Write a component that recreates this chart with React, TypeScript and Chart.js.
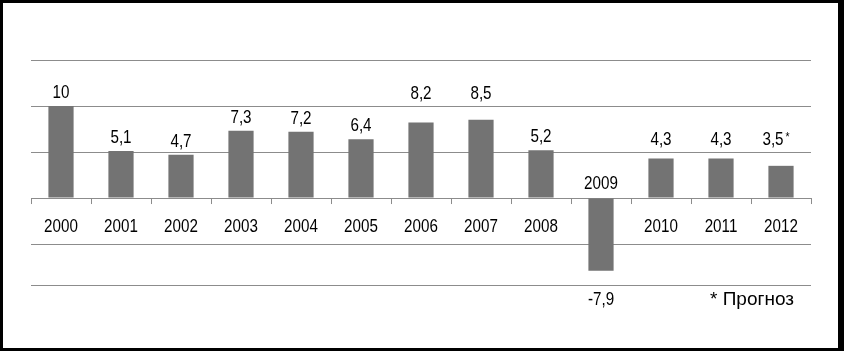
import React, { useEffect, useRef } from "react";
import { Chart, registerables } from "chart.js";

Chart.register(...registerables);

const years = ["2000", "2001", "2002", "2003", "2004", "2005", "2006", "2007", "2008", "2009", "2010", "2011", "2012"];
const growth = [10, 5.1, 4.7, 7.3, 7.2, 6.4, 8.2, 8.5, 5.2, -7.9, 4.3, 4.3, 3.5];
const forecastFlags = [false, false, false, false, false, false, false, false, false, false, false, false, true];
const gridTicks = [-9.45, -5, 0, 5, 10, 15];
const footnote = "* Прогноз";

const FONT = '"Liberation Sans", Arial, sans-serif';
const GRID = "#8c8c8c";
const BAR = "#737373";
const SX = 0.8;

const fmt = (v: number) => (Number.isInteger(v) ? String(v) : v.toFixed(1).replace(".", ","));

function narrowText(ctx: any, text: string, x: number, y: number, align: "center" | "left", size = 19, sx = SX) {
  ctx.save();
  ctx.font = size + "px " + FONT;
  ctx.textAlign = align;
  ctx.textBaseline = "middle";
  ctx.translate(x, y);
  ctx.scale(sx, 1);
  ctx.fillText(text, 0, 0);
  const w = ctx.measureText(text).width * sx;
  ctx.restore();
  return w;
}

const labelPlugin = {
  id: "customLabels",
  afterDatasetsDraw(chart: any) {
    const ctx = chart.ctx;
    const xs = chart.scales.x;
    const ys = chart.scales.y;
    const zero = ys.getPixelForValue(0);
    const half = (xs.getPixelForValue(1) - xs.getPixelForValue(0)) / 2;
    const gridPx = gridTicks.map((v) => ys.getPixelForValue(v));
    ctx.save();
    ctx.strokeStyle = GRID;
    ctx.lineWidth = 1;
    for (let i = 0; i <= years.length; i++) {
      const x = Math.round(xs.getPixelForValue(0) - half + i * 2 * half) + 0.5;
      ctx.beginPath();
      ctx.moveTo(x, zero);
      ctx.lineTo(x, zero + 6);
      ctx.stroke();
    }
    ctx.fillStyle = "#000";
    years.forEach((yr, i) => {
      const v = growth[i];
      const cx = xs.getPixelForValue(i);
      const end = ys.getPixelForValue(v);
      if (v >= 0) {
        narrowText(ctx, yr, cx, zero + 29, "center");
        let ly = end - 13;
        const hit = gridPx.find((g) => Math.abs(g - ly) < 8);
        if (hit !== undefined) ly = hit - 12;
        if (forecastFlags[i]) {
          const w = narrowText(ctx, fmt(v), cx - 8, ly, "center");
          narrowText(ctx, "*", cx - 8 + w / 2 + 2, ly - 3, "left", 13);
        } else {
          narrowText(ctx, fmt(v), cx, ly, "center");
        }
      } else {
        narrowText(ctx, yr, cx, zero - 14, "center");
        narrowText(ctx, fmt(v), cx, end + 29, "center");
      }
    });
    narrowText(ctx, footnote, 710, zero + 102, "left", 19, 1);
    ctx.fillStyle = "#000";
    ctx.fillRect(0, 0, chart.width, 3);
    ctx.fillRect(0, 0, 3, chart.height);
    ctx.fillRect(0, chart.height - 3, chart.width, 3);
    ctx.fillRect(chart.width - 6, 0, 6, chart.height);
    ctx.restore();
  },
};

export default function App() {
  const ref = useRef<HTMLCanvasElement | null>(null);
  useEffect(() => {
    document.body.style.margin = "0";
    if (!ref.current) return;
    const chart = new Chart(ref.current, {
      type: "bar",
      data: {
        labels: years,
        datasets: [
          {
            data: growth,
            backgroundColor: BAR,
            borderWidth: 0,
            barPercentage: 0.42,
            categoryPercentage: 1,
          },
        ],
      },
      options: {
        animation: false,
        responsive: false,
        devicePixelRatio: 1,
        layout: { padding: { left: 31, right: 33, top: 60, bottom: 66 } },
        plugins: { legend: { display: false }, tooltip: { enabled: false }, title: { display: false } },
        scales: {
          x: { display: false, offset: true },
          y: {
            display: true,
            min: -9.45,
            max: 15,
            ticks: { display: false },
            grid: { color: GRID, lineWidth: 1, drawTicks: false },
            border: { display: false },
            afterBuildTicks: (s: any) => {
              s.ticks = gridTicks.map((v) => ({ value: v }));
            },
            afterFit: (s: any) => {
              s.width = 0;
            },
          },
        },
      },
      plugins: [labelPlugin],
    });
    return () => chart.destroy();
  }, []);
  return (
    <div style={{ width: 844, height: 351, background: "#fff" }}>
      <canvas ref={ref} width={844} height={351} />
    </div>
  );
}
